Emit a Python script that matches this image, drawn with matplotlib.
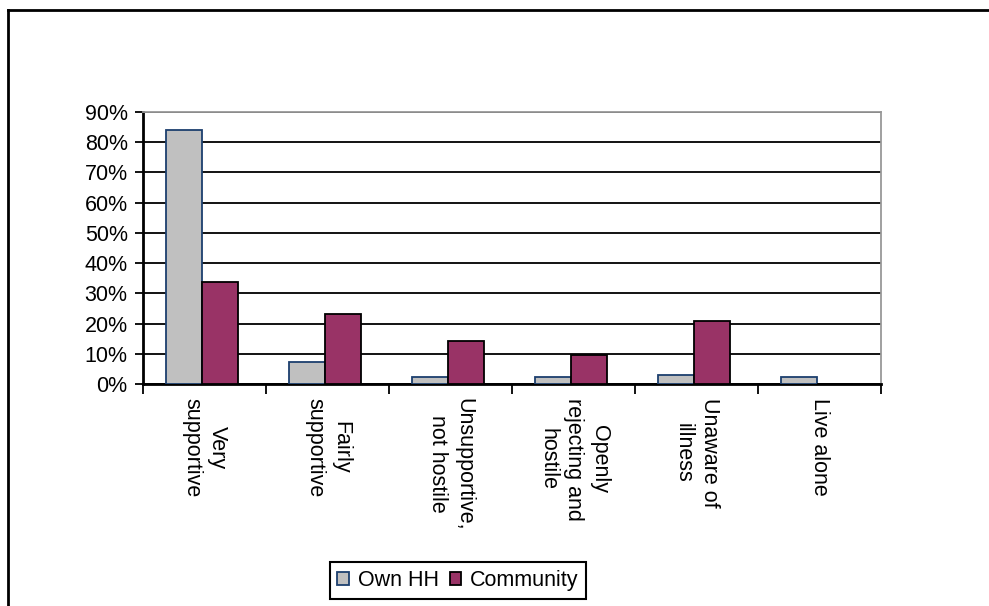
import numpy as np
import matplotlib
matplotlib.use("Agg")
import matplotlib.pyplot as plt
from matplotlib.lines import Line2D

plt.rcParams['font.family'] = ['Liberation Sans', 'DejaVu Sans']

# Data
categories = ["Very\nsupportive", "Fairly\nsupportive", "Unsupportive,\nnot hostile",
              "Openly\nrejecting and\nhostile", "Unaware of\nillness", "Live alone"]
own_hh = [84, 7.4, 2.2, 2.2, 2.9, 2.2]
community = [33.6, 23.3, 14.2, 9.6, 20.7, 0]
yticks = np.arange(0, 91, 10)

# Setup figure:
fig = plt.figure(figsize=(9.89, 6.06), dpi=100)
ax = fig.add_axes([143/989, 1-384/606, (881-143)/989, (384-112)/606])

x = np.arange(len(categories)) + 0.48
w = 0.293
b1 = ax.bar(x - w, own_hh, width=w, align='edge', color='#C0C0C0',
            edgecolor='#1C3F6E', linewidth=1.3, label='Own HH', zorder=3)
b2 = ax.bar(x, community, width=w, align='edge', color='#993366',
            edgecolor='black', linewidth=1.3, label='Community', zorder=3)

ax.set_xlim(0, len(categories))
ax.set_ylim(0, 90)
ax.set_yticks(yticks)
ax.set_yticklabels([f"{v}%" for v in yticks], fontsize=15.5)
ax.yaxis.grid(True, color='black', linewidth=1.3, zorder=0)
ax.set_axisbelow(True)

# x ticks at category boundaries, labels at centers
ax.set_xticks(np.arange(len(categories) + 1))
ax.set_xticklabels([])
ax.set_xticks(np.arange(len(categories)) + 0.5, minor=True)
ax.set_xticklabels(categories, minor=True, rotation=-90, fontsize=15.5,
                   ha='center', va='top', multialignment='center', linespacing=1.3)
ax.tick_params(axis='x', which='major', length=7, width=1.3, direction='out')
ax.tick_params(axis='x', which='minor', length=0, pad=10)
ax.tick_params(axis='y', length=6, width=1.3, direction='out', pad=5)

ax.spines['left'].set_linewidth(2)
ax.spines['bottom'].set_linewidth(2)
ax.spines['top'].set_color('#999999')
ax.spines['right'].set_color('#999999')
ax.spines['top'].set_linewidth(1.3)
ax.spines['right'].set_linewidth(1.3)

leg = fig.legend(handles=[b1, b2], loc='center', bbox_to_anchor=(458/989, 1-580.5/606),
                 ncol=2, fontsize=15.5, frameon=True, fancybox=False, framealpha=1,
                 edgecolor='black', handlelength=0.55, handleheight=0.55,
                 handletextpad=0.4, columnspacing=0.5, borderpad=0.35)
leg.get_frame().set_linewidth(1.5)

# outer border
fig.add_artist(Line2D([8/989, 8/989], [0, 1-10/606], color='black', linewidth=2, transform=fig.transFigure))
fig.add_artist(Line2D([8/989, 1], [1-10/606, 1-10/606], color='black', linewidth=2, transform=fig.transFigure))

plt.savefig("out.png", dpi=100)
